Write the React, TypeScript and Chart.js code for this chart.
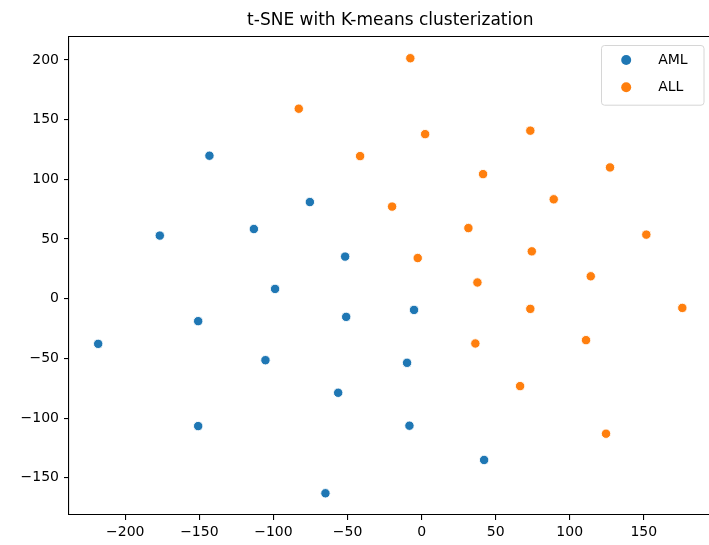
import React, { useEffect, useRef } from "react";
import { Chart, registerables } from "chart.js";

Chart.register(...registerables);

const TITLE = "t-SNE with K-means clusterization";
const SERIES_NAMES = ["AML", "ALL"];
const SERIES_COLORS = ["#1f77b4", "#ff7f0e"];

const AML_X = [-143.2, -176.7, -113.2, -75.4, -51.6, -218.3, -150.8, -98.9, -105.4, -150.8, -50.9, -5.1, -9.8, -56.3, -8.2, 42.2, -64.9];
const AML_Y = [119.8, 52.9, 58.4, 81.0, 35.3, -37.8, -18.8, 8.2, -51.5, -106.7, -15.2, -9.4, -53.7, -78.8, -106.4, -135.1, -163.0];

const ALL_X = [-7.6, -82.9, 2.4, -41.5, 41.5, -19.9, 31.6, -2.6, 73.4, 127.2, 89.2, 151.7, 74.4, 114.2, 37.7, 73.4, 176.0, 36.3, 111.0, 66.5, 124.5];
const ALL_Y = [201.5, 159.2, 137.9, 119.5, 104.4, 77.2, 59.2, 34.1, 140.8, 110.0, 83.3, 53.7, 39.7, 18.8, 13.6, -8.5, -7.7, -37.5, -34.7, -73.2, -113.1];

const X_TICKS = [-200, -150, -100, -50, 0, 50, 100, 150];
const Y_TICKS = [-150, -100, -50, 0, 50, 100, 150, 200];
const X_LIMITS = [-238, 195.7];
const Y_LIMITS = [-181.2, 219.7];

const FONT = "'DejaVu Sans', sans-serif";

const fmt = (v: number) => String(v).replace("-", "\u2212");

const framePlugin = {
  id: "frameAndLegend",
  afterDraw(chart: any) {
    const { ctx, chartArea: a } = chart;
    ctx.save();
    ctx.strokeStyle = "#000";
    ctx.lineWidth = 1.1;
    ctx.beginPath();
    ctx.moveTo(a.left, a.top);
    ctx.lineTo(a.right, a.top);
    ctx.lineTo(a.right, a.bottom);
    ctx.stroke();

    const w = 102.5;
    const h = 59.7;
    const x0 = a.right - 7.5 - w;
    const y0 = a.top + 9;
    const r = 3;
    ctx.beginPath();
    ctx.moveTo(x0 + r, y0);
    ctx.lineTo(x0 + w - r, y0);
    ctx.quadraticCurveTo(x0 + w, y0, x0 + w, y0 + r);
    ctx.lineTo(x0 + w, y0 + h - r);
    ctx.quadraticCurveTo(x0 + w, y0 + h, x0 + w - r, y0 + h);
    ctx.lineTo(x0 + r, y0 + h);
    ctx.quadraticCurveTo(x0, y0 + h, x0, y0 + h - r);
    ctx.lineTo(x0, y0 + r);
    ctx.quadraticCurveTo(x0, y0, x0 + r, y0);
    ctx.closePath();
    ctx.fillStyle = "rgba(255,255,255,0.8)";
    ctx.fill();
    ctx.strokeStyle = "#d6d6d6";
    ctx.lineWidth = 1;
    ctx.stroke();

    chart.data.datasets.forEach((ds: any, i: number) => {
      const cy = y0 + 14.5 + i * 27.2;
      ctx.beginPath();
      ctx.arc(x0 + 24.7, cy, 5, 0, Math.PI * 2);
      ctx.fillStyle = ds.backgroundColor;
      ctx.fill();
      ctx.fillStyle = "#000";
      ctx.font = `14px ${FONT}`;
      ctx.textAlign = "left";
      ctx.textBaseline = "middle";
      ctx.fillText(ds.label, x0 + 56.7, cy);
    });
    ctx.restore();
  },
};

export default function App() {
  const ref = useRef<HTMLCanvasElement | null>(null);

  useEffect(() => {
    if (!ref.current) return;
    const mk = (xs: number[], ys: number[]) => xs.map((x, i) => ({ x, y: ys[i] }));
    const chart = new Chart(ref.current, {
      type: "scatter",
      data: {
        datasets: [
          {
            label: SERIES_NAMES[0],
            data: mk(AML_X, AML_Y),
            backgroundColor: SERIES_COLORS[0],
            borderColor: "#ffffff",
            borderWidth: 0.9,
            pointRadius: 4.7,
          },
          {
            label: SERIES_NAMES[1],
            data: mk(ALL_X, ALL_Y),
            backgroundColor: SERIES_COLORS[1],
            borderColor: "#ffffff",
            borderWidth: 0.9,
            pointRadius: 4.7,
          },
        ],
      },
      options: {
        responsive: false,
        maintainAspectRatio: false,
        devicePixelRatio: 1,
        animation: false,
        layout: { autoPadding: false, padding: { left: 0, right: 3.5, top: 0, bottom: 0 } },
        plugins: {
          legend: { display: false },
          tooltip: { enabled: false },
          title: {
            display: true,
            text: TITLE,
            fullSize: false,
            color: "#000",
            font: { family: FONT, size: 17, weight: "normal", lineHeight: 1.2 },
            padding: { top: 10, bottom: 6.1 },
          },
        },
        scales: {
          x: {
            type: "linear",
            min: X_LIMITS[0],
            max: X_LIMITS[1],
            afterBuildTicks: (s: any) => {
              s.ticks = X_TICKS.map((v) => ({ value: v }));
            },
            afterFit: (s: any) => {
              s.height = 30;
            },
            grid: { drawOnChartArea: false, drawTicks: true, tickLength: 5, color: "#000", lineWidth: 1.1 },
            border: { display: true, color: "#000", width: 1.1 },
            ticks: {
              color: "#000",
              padding: 4,
              maxRotation: 0,
              autoSkip: false,
              font: { family: FONT, size: 14 },
              callback: (v: any) => fmt(Number(v)),
            },
          },
          y: {
            type: "linear",
            min: Y_LIMITS[0],
            max: Y_LIMITS[1],
            afterBuildTicks: (s: any) => {
              s.ticks = Y_TICKS.map((v) => ({ value: v }));
            },
            afterFit: (s: any) => {
              s.width = 69;
            },
            grid: { drawOnChartArea: false, drawTicks: true, tickLength: 5, color: "#000", lineWidth: 1.1 },
            border: { display: true, color: "#000", width: 1.1 },
            ticks: {
              color: "#000",
              padding: 5,
              autoSkip: false,
              font: { family: FONT, size: 14 },
              callback: (v: any) => fmt(Number(v)),
            },
          },
        },
      },
      plugins: [framePlugin],
    });
    return () => chart.destroy();
  }, []);

  return (
    <div style={{ position: "fixed", left: 0, top: 0, width: 709, height: 545, overflow: "hidden", background: "#fff" }}>
      <canvas ref={ref} width={715} height={545} style={{ display: "block", width: 715, height: 545 }} />
    </div>
  );
}
